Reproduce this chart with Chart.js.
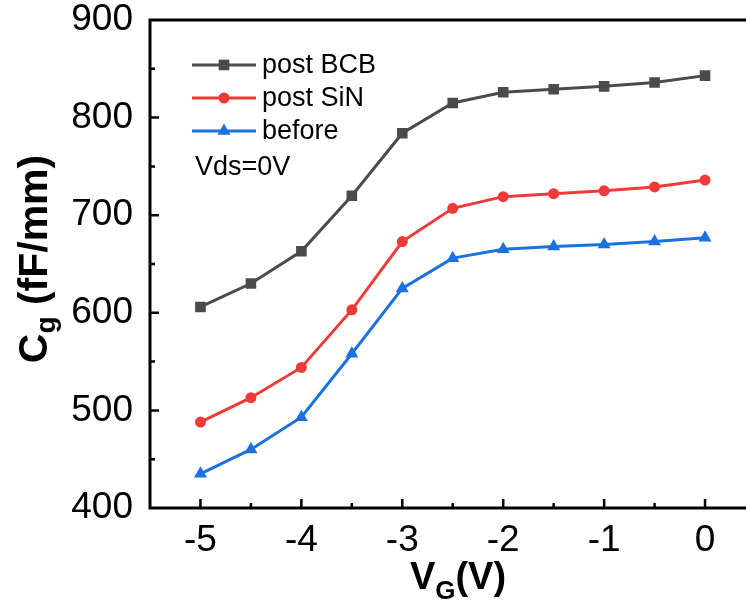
<!DOCTYPE html>
<html>
<head>
<meta charset="utf-8">
<script src="https://cdn.jsdelivr.net/npm/chart.js@4/dist/chart.umd.min.js"></script>
<style>
  html, body { margin: 0; padding: 0; background: #fff; overflow: hidden; }
  canvas { display: block; }
</style>
</head>
<body>
<canvas id="cg" width="763" height="608"></canvas>
<script>
// gate voltage sweep (V)
const vg = [-5, -4.5, -4, -3.5, -3, -2.5, -2, -1.5, -1, -0.5, 0];

// gate capacitance, fF/mm
const postBCB = [606, 630, 663, 720, 784, 815, 826, 829, 832, 836, 843];
const postSiN = [488, 513, 544, 603, 673, 707, 719, 722, 725, 729, 736];
const before  = [435, 460, 493, 558, 625, 656, 665, 668, 670, 673, 677];

const seriesNames = ['post BCB', 'post SiN', 'before'];
const xTicks = [-5, -4, -3, -2, -1, 0];
const yTicks = [400, 500, 600, 700, 800, 900];

const FONT = '"Liberation Sans", Arial, sans-serif';
const colors = ['#4b4b4b', '#ef3a3a', '#1c71e0'];
const shapes = ['rect', 'circle', 'triangle'];
const radii = [7.5, 5.5, 7.5];

function pts(ys) {
  return vg.map((v, i) => ({ x: v, y: ys[i] }));
}

const datasets = [postBCB, postSiN, before].map((ys, i) => ({
  label: seriesNames[i],
  data: pts(ys),
  borderColor: colors[i],
  backgroundColor: colors[i],
  borderWidth: 3,
  pointStyle: shapes[i],
  pointRadius: radii[i],
  pointHoverRadius: radii[i],
  pointBorderWidth: 0,
  tension: 0
}));

// frame, inward ticks, legend, note and axis titles
const decor = {
  id: 'decor',
  afterDraw(chart) {
    const ctx = chart.ctx;
    const a = chart.chartArea;
    const xs = chart.scales.x, ys = chart.scales.y;
    ctx.save();
    ctx.strokeStyle = '#000';
    ctx.lineWidth = 3;
    ctx.beginPath();
    ctx.moveTo(a.right, a.top);
    ctx.lineTo(a.left, a.top);
    ctx.lineTo(a.left, a.bottom);
    ctx.lineTo(a.right, a.bottom);
    ctx.lineTo(a.right, a.top);
    ctx.stroke();

    ctx.lineWidth = 2.5;
    ctx.beginPath();
    for (let v = -5; v <= 0.01; v += 0.5) {
      const px = xs.getPixelForValue(v);
      const len = Number.isInteger(v) ? 9 : 5;
      ctx.moveTo(px, a.bottom);
      ctx.lineTo(px, a.bottom - len);
    }
    for (let v = 450; v < 900; v += 50) {
      const py = ys.getPixelForValue(v);
      const len = v % 100 === 0 ? 9 : 5;
      ctx.moveTo(a.left, py);
      ctx.lineTo(a.left + len, py);
    }
    ctx.stroke();

    // legend
    ctx.font = '27px ' + FONT;
    ctx.textBaseline = 'middle';
    ctx.textAlign = 'left';
    const ly = [65, 98, 131];
    chart.data.datasets.forEach((ds, i) => {
      ctx.strokeStyle = ds.borderColor;
      ctx.lineWidth = 3;
      ctx.beginPath();
      ctx.moveTo(192, ly[i]);
      ctx.lineTo(256, ly[i]);
      ctx.stroke();
      ctx.fillStyle = ds.backgroundColor;
      Chart.helpers.drawPoint(ctx, {
        pointStyle: ds.pointStyle, radius: ds.pointRadius, borderWidth: 0, rotation: 0
      }, 224, ly[i]);
      ctx.fillStyle = '#000';
      ctx.fillText(ds.label, 262, ly[i] + 1);
    });
    ctx.fillText('Vds=0V', 195, 168);

    // x title
    ctx.textBaseline = 'alphabetic';
    let big = 'bold 38px ' + FONT, small = 'bold 26px ' + FONT;
    ctx.font = big;
    const w1 = ctx.measureText('V').width, w3 = ctx.measureText('(V)').width;
    ctx.font = small;
    const w2 = ctx.measureText('G').width;
    let x0 = 458 - (w1 + w2 + w3) / 2;
    ctx.font = big; ctx.fillText('V', x0, 589);
    ctx.font = small; ctx.fillText('G', x0 + w1, 599);
    ctx.font = big; ctx.fillText('(V)', x0 + w1 + w2, 589);

    // y title
    big = 'bold 41px ' + FONT; small = 'bold 28px ' + FONT;
    ctx.translate(47, 259);
    ctx.rotate(-Math.PI / 2);
    ctx.font = big;
    const c1 = ctx.measureText('C').width, c3 = ctx.measureText(' (fF/mm)').width;
    ctx.font = small;
    const c2 = ctx.measureText('g').width;
    x0 = -(c1 + c2 + c3) / 2;
    ctx.font = big; ctx.fillText('C', x0, 0);
    ctx.font = small; ctx.fillText('g', x0 + c1, 8);
    ctx.font = big; ctx.fillText(' (fF/mm)', x0 + c1 + c2, 0);
    ctx.restore();
  }
};

new Chart(document.getElementById('cg'), {
  type: 'line',
  data: { datasets },
  options: {
    responsive: false,
    animation: false,
    events: [],
    layout: { padding: { top: 20, right: 1, left: 0, bottom: 0 } },
    plugins: { legend: { display: false }, tooltip: { enabled: false } },
    scales: {
      x: {
        type: 'linear',
        min: -5.5,
        max: 0.5,
        grid: { display: false, drawTicks: false },
        border: { display: false },
        afterBuildTicks: s => { s.ticks = xTicks.map(v => ({ value: v })); },
        afterFit: s => { s.height = 100; s.paddingLeft = 0; s.paddingRight = 0; },
        ticks: { color: '#000', padding: 14, maxRotation: 0, font: { family: FONT, size: 37, lineHeight: 1 } }
      },
      y: {
        min: 400,
        max: 900,
        grid: { display: false, drawTicks: false },
        border: { display: false },
        afterBuildTicks: s => { s.ticks = yTicks.map(v => ({ value: v })); },
        afterFit: s => { s.width = 150; s.paddingTop = 0; s.paddingBottom = 0; },
        ticks: { color: '#000', padding: 17, font: { family: FONT, size: 37, lineHeight: 1 } }
      }
    }
  },
  plugins: [decor]
});
</script>
</body>
</html>
